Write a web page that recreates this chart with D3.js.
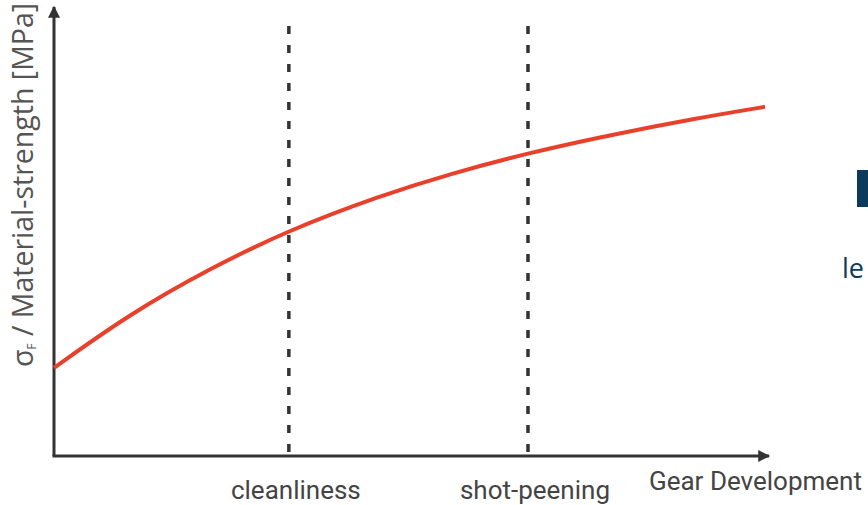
<!DOCTYPE html>
<html>
<head>
<meta charset="utf-8">
<script src="https://cdn.jsdelivr.net/npm/d3@7"></script>
<style>
html,body{margin:0;padding:0;background:#fff;}
svg{display:block;}
</style>
</head>
<body>
<svg id="chart" width="868" height="505"></svg>
<script>
// Data (relative units, 0–100)
const curveX = [0, 10.6, 21.8, 32.8, 45.5, 55.3, 66.2, 76.3, 90.2, 99.3];
const curveY = [19.6, 31.6, 41.7, 50.2, 57.8, 62.7, 67.3, 70.9, 75.2, 77.6];
const stageNames = ["cleanliness", "shot-peening"];
const stageX = [32.8, 66.2];
const xAxisTitle = "Gear Development";
const yAxisTitle = "Material-strength [MPa]";

(function(){
const svg = d3.select("#chart");
const mLeft = 54, mRight = 770, mTop = 6, mBottom = 456;
const x = d3.scaleLinear().domain([0, 100]).range([mLeft, mRight]);
const y = d3.scaleLinear().domain([0, 100]).range([mBottom, mTop]);
const axisColor = "#333333";
const font = "Roboto, 'DejaVu Sans', sans-serif";
const font2 = "'Open Sans', 'DejaVu Sans', sans-serif";

// arrow marker
const defs = svg.append("defs");
defs.append("marker").attr("id","arrow").attr("viewBox","0 0 10 10")
  .attr("refX",9).attr("refY",5).attr("markerWidth",5).attr("markerHeight",4)
  .attr("markerUnits","strokeWidth").attr("orient","auto")
  .append("path").attr("d","M0,0 L10,5 L0,10 Z").attr("fill",axisColor);

// dashed stage lines
svg.selectAll("line.stage").data(stageX).join("line")
  .attr("class","stage")
  .attr("x1", d => x(d)).attr("x2", d => x(d))
  .attr("y1", 26).attr("y2", 452)
  .attr("stroke","#333").attr("stroke-width",3.5)
  .attr("stroke-dasharray","8,11");

// axes
svg.append("line").attr("x1", mLeft).attr("y1", mBottom).attr("x2", mLeft).attr("y2", mTop+1)
  .attr("stroke", axisColor).attr("stroke-width", 3).attr("marker-end","url(#arrow)");
svg.append("line").attr("x1", mLeft-1.5).attr("y1", mBottom).attr("x2", mRight-1).attr("y2", mBottom)
  .attr("stroke", axisColor).attr("stroke-width", 3).attr("marker-end","url(#arrow)");

// curve
const pts = curveX.map((d,i)=>[d, curveY[i]]);
svg.append("path").datum(pts)
  .attr("d", d3.line().x(d=>x(d[0])).y(d=>y(d[1])).curve(d3.curveBasis))
  .attr("fill","none").attr("stroke","#e8402a").attr("stroke-width",4)
  .attr("stroke-linecap","butt");

// stage labels
svg.selectAll("text.stage").data(stageNames).join("text")
  .attr("class","stage")
  .attr("x",(d,i)=>x(stageX[i])+7).attr("y",499)
  .attr("text-anchor","middle")
  .attr("font-family",font).attr("font-size",26).attr("fill","#444")
  .text(d=>d);

// x title
svg.append("text").attr("x",862).attr("y",490).attr("text-anchor","end")
  .attr("font-family",font).attr("font-size",26).attr("fill","#444")
  .text(xAxisTitle);

// y title
const yt = svg.append("text")
  .attr("transform","translate(33,185) rotate(-90)")
  .attr("text-anchor","middle")
  .attr("font-family",font2).attr("font-size",28.5).attr("fill","#555");
yt.append("tspan").text("σ");
yt.append("tspan").attr("font-size",12).attr("dy",3).text("F");
yt.append("tspan").attr("dy",-3).text(" / " + yAxisTitle);

// cropped side elements
svg.append("rect").attr("x",857).attr("y",170).attr("width",11).attr("height",37).attr("fill","#0d3a5c");
svg.append("text").attr("x",842).attr("y",278).attr("font-family",font2).attr("font-size",27)
  .attr("fill","#0d3a5c").text("le");
})();
</script>
</body>
</html>
